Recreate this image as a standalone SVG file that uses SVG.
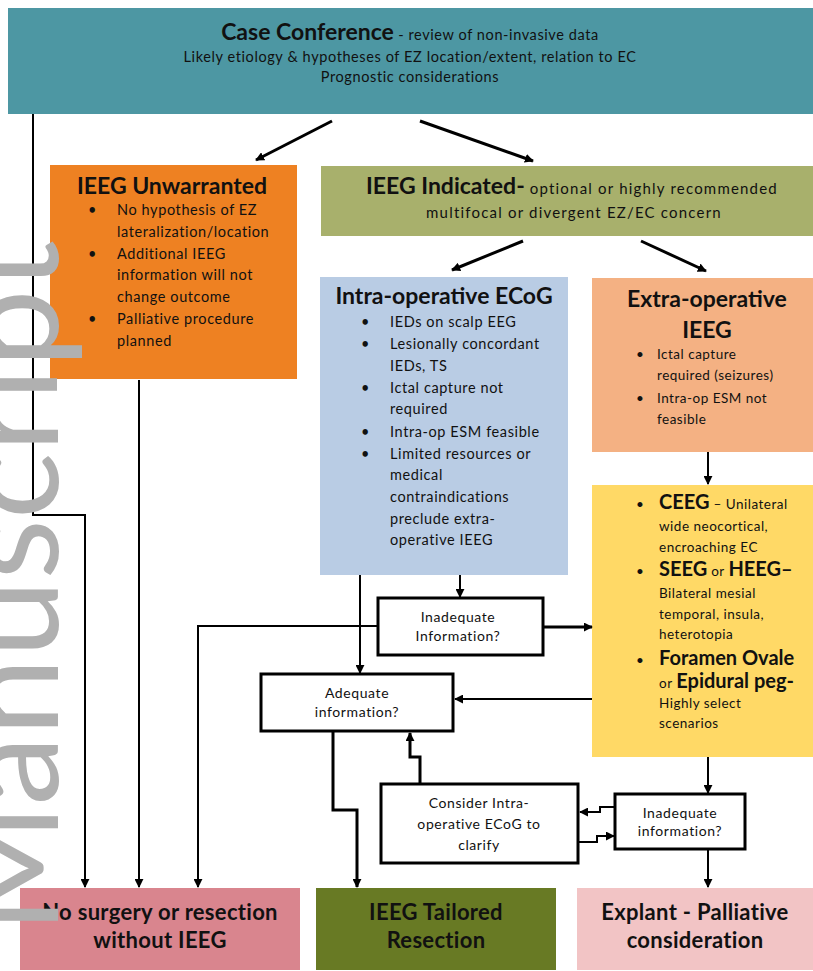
<svg xmlns="http://www.w3.org/2000/svg" width="813" height="971" viewBox="0 0 813 971">
<defs>
<marker id="ah" viewBox="0 0 10 10" refX="9" refY="5" markerWidth="9" markerHeight="9" orient="auto-start-reverse" markerUnits="userSpaceOnUse">
<path d="M0,0 L10,5 L0,10 z" fill="#000"/>
</marker>
<style>
text{font-family:Lato,"Open Sans","Liberation Sans",sans-serif;fill:#111;}
.t{font-weight:bold;font-size:23px;}
.b{font-size:14.5px;letter-spacing:0.6px;}
.g{font-size:15px;letter-spacing:1.2px;}
.y{font-size:13.5px;letter-spacing:0.5px;}
.i{font-size:14px;letter-spacing:0.6px;}
.bb{font-weight:bold;font-size:20px;letter-spacing:0;}
.c{text-anchor:middle;}
.box{stroke:none;}
.wb{fill:#fff;stroke:#000;stroke-width:3;}
.ln{fill:none;stroke:#000;stroke-width:2;marker-end:url(#ah);}
.lt{fill:none;stroke:#000;stroke-width:3;marker-end:url(#ah);}
.fin{font-weight:bold;font-size:22px;letter-spacing:0.3px;}
</style>
</defs>
<rect width="813" height="971" fill="#fff"/>

<g id="case-conference">
<rect class="box" x="8" y="8" width="805" height="106" fill="#4d97a3"/>
<text x="410" y="40" class="c"><tspan class="t">Case Conference</tspan><tspan class="b"> - review of non-invasive data</tspan></text>
<text x="410" y="62" class="c b">Likely etiology &amp; hypotheses of EZ location/extent, relation to EC</text>
<text x="410" y="82" class="c b">Prognostic considerations</text>
</g>

<g id="ieeg-unwarranted">
<rect class="box" x="50" y="165" width="247" height="214" fill="#ee8122"/>
<text x="172" y="194" class="c t">IEEG Unwarranted</text>
<text class="b"><tspan x="88" y="215">•</tspan><tspan x="117" y="215">No hypothesis of EZ</tspan><tspan x="117" y="237">lateralization/location</tspan><tspan x="88" y="259">•</tspan><tspan x="117" y="259">Additional IEEG</tspan><tspan x="117" y="280">information will not</tspan><tspan x="117" y="302">change outcome</tspan><tspan x="88" y="324">•</tspan><tspan x="117" y="324">Palliative procedure</tspan><tspan x="117" y="346">planned</tspan></text>
</g>

<g id="ieeg-indicated">
<rect class="box" x="321" y="166" width="492" height="70" fill="#a8b06c"/>
<text x="572" y="194" class="c"><tspan class="t">IEEG Indicated-</tspan><tspan class="g"> optional or highly recommended</tspan></text>
<text x="574" y="218" class="c g">multifocal or divergent EZ/EC concern</text>
</g>

<g id="intra-operative">
<rect class="box" x="320" y="277" width="248" height="298" fill="#b9cce4"/>
<text x="444" y="304" class="c t">Intra-operative ECoG</text>
<text class="b"><tspan x="361" y="327">•</tspan><tspan x="390" y="327">IEDs on scalp EEG</tspan><tspan x="361" y="349">•</tspan><tspan x="390" y="349">Lesionally concordant</tspan><tspan x="390" y="371">IEDs, TS</tspan><tspan x="361" y="393">•</tspan><tspan x="390" y="393">Ictal capture not</tspan><tspan x="390" y="414">required</tspan><tspan x="361" y="437">•</tspan><tspan x="390" y="437">Intra-op ESM feasible</tspan><tspan x="361" y="459">•</tspan><tspan x="390" y="459">Limited resources or</tspan><tspan x="390" y="480">medical</tspan><tspan x="390" y="502">contraindications</tspan><tspan x="390" y="524">preclude extra-</tspan><tspan x="390" y="545">operative IEEG</tspan></text>
</g>

<g id="extra-operative">
<rect class="box" x="592" y="278" width="221" height="174" fill="#f4b183"/>
<text x="707" y="307" class="c t">Extra-operative</text>
<text x="707" y="338" class="c t">IEEG</text>
<text class="y"><tspan x="636" y="359">•</tspan><tspan x="657" y="359">Ictal capture</tspan><tspan x="657" y="380">required (seizures)</tspan><tspan x="636" y="403">•</tspan><tspan x="657" y="403">Intra-op ESM not</tspan><tspan x="657" y="424">feasible</tspan></text>
</g>

<g id="ieeg-types">
<rect class="box" x="592" y="485" width="221" height="272" fill="#ffd966"/>
<text class="y"><tspan x="636" y="509">•</tspan><tspan x="659" y="509" class="bb">CEEG</tspan><tspan> – Unilateral</tspan><tspan x="659" y="531">wide neocortical,</tspan><tspan x="659" y="552">encroaching EC</tspan><tspan x="636" y="576">•</tspan><tspan x="659" y="576" class="bb">SEEG</tspan><tspan> or </tspan><tspan class="bb">HEEG–</tspan><tspan x="659" y="598">Bilateral mesial</tspan><tspan x="659" y="619">temporal, insula,</tspan><tspan x="659" y="639">heterotopia</tspan><tspan x="636" y="665">•</tspan><tspan x="659" y="665" class="bb">Foramen Ovale</tspan><tspan x="659" y="688">or </tspan><tspan class="bb">Epidural peg-</tspan><tspan x="659" y="708">Highly select</tspan><tspan x="659" y="728">scenarios</tspan></text>
</g>

<g id="inadequate-1">
<rect class="wb" x="378" y="598" width="165" height="57"/>
<text x="458" y="622" class="c i">Inadequate</text>
<text x="458" y="641" class="c i">Information?</text>
</g>

<g id="adequate">
<rect class="wb" x="261" y="674" width="192" height="57"/>
<text x="357" y="698" class="c i">Adequate</text>
<text x="357" y="717" class="c i">information?</text>
</g>

<g id="consider-ecog">
<rect class="wb" x="381" y="784" width="197" height="79"/>
<text x="479" y="808" class="c i">Consider Intra-</text>
<text x="479" y="829" class="c i">operative ECoG to</text>
<text x="479" y="850" class="c i">clarify</text>
</g>

<g id="inadequate-2">
<rect class="wb" x="615" y="794" width="130" height="55"/>
<text x="680" y="818" class="c i">Inadequate</text>
<text x="680" y="836" class="c i">information?</text>
</g>

<g id="no-surgery">
<rect class="box" x="20" y="888" width="280" height="82" fill="#d9858e"/>
<text x="160" y="920" class="c fin">No surgery or resection</text>
<text x="160" y="948" class="c fin">without IEEG</text>
</g>

<g id="tailored-resection">
<rect class="box" x="316" y="888" width="240" height="82" fill="#687a24"/>
<text x="436" y="920" class="c fin">IEEG Tailored</text>
<text x="436" y="948" class="c fin">Resection</text>
</g>

<g id="explant">
<rect class="box" x="577" y="888" width="236" height="82" fill="#f2c4c5"/>
<text x="695" y="920" class="c fin">Explant - Palliative</text>
<text x="695" y="948" class="c fin">consideration</text>
</g>

<g id="connectors">
<path class="ln" d="M33,114 V515 H85 V887"/>
<path class="lt" d="M332,121 L256,160"/>
<path class="lt" d="M420,121 L533,161"/>
<path class="lt" d="M523,241 L452,270"/>
<path class="lt" d="M641,241 L706,271"/>
<path class="ln" d="M139,380 V887"/>
<path class="ln" d="M460,575 V597"/>
<path class="ln" d="M360,575 V673"/>
<path class="ln" d="M377,626 H198 V887"/>
<path class="lt" d="M544,627 H592"/>
<path class="ln" d="M708,452 V484"/>
<path class="ln" d="M592,699 H455"/>
<path class="lt" d="M333,732 V810 H357 V887"/>
<path class="lt" d="M420,783 V757 H410 V733"/>
<path class="ln" d="M708,757 V793"/>
<path class="ln" d="M708,850 V887"/>
<path class="ln" d="M614,807 H600 V812 H580"/>
<path class="ln" d="M579,842 H597 V836 H614"/>
</g>

<text transform="translate(58,240) rotate(-90)" text-anchor="end" font-size="140" style="fill:#b0b0b0;font-family:Lato,'Open Sans',sans-serif;">Author Manuscript</text>
</svg>
